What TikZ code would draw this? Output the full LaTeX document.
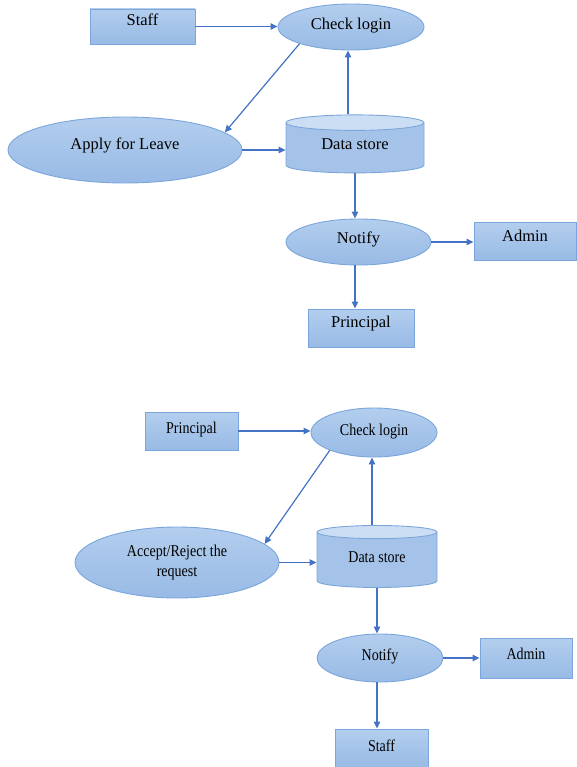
\documentclass[tikz,border=0pt]{standalone}
\usepackage{fontspec}
\setmainfont{Liberation Serif}
\newfontfamily\narrowserif[FakeStretch=0.85]{Liberation Serif}
\usetikzlibrary{shapes.geometric}
\usetikzlibrary{arrows.meta,positioning}
\definecolor{fillTop}{HTML}{B3CEEE}
\definecolor{fillBot}{HTML}{98BAE5}
\definecolor{rand}{HTML}{7AA6DB}
\definecolor{pfeilfarbe}{HTML}{4472C4}
\definecolor{deckel}{HTML}{CCDEF3}
\definecolor{mantel}{HTML}{A5C3E9}
\tikzset{
    %Define standard arrow tip
    >={Triangle[length=7pt,width=6.5pt]},
    %Define style for boxes
    kasten/.style={
           rectangle,
           draw=rand, line width=0.9pt,
           top color=fillTop, bottom color=fillBot,
           inner sep=0pt,
           text height=11pt},
    % Define style for processes
    oval/.style={
           ellipse,
           draw=rand, line width=0.9pt,
           top color=fillTop, bottom color=fillBot,
           inner sep=0pt,
           align=center},
    % Define style for the data store
    speicher/.style={
           cylinder, shape border rotate=90, aspect=0.23,
           draw=rand, line width=0.9pt,
           cylinder uses custom fill,
           cylinder body fill=mantel, cylinder end fill=deckel,
           inner sep=0pt,
           text height=11pt},
    % Define arrow style
    pil/.style={
           ->,
           draw=pfeilfarbe,
           line width=1.2pt},
    oben/.style={font=\fontsize{16.5}{19}\selectfont},
    unten/.style={font=\narrowserif\fontsize{16.5}{20}\selectfont},
}
\begin{document}
\begin{tikzpicture}[x=1pt,y=-1pt]
\useasboundingbox (0,0) rectangle (576,767);

% Erstes Diagramm (Staff)
\node[kasten,oben,minimum width=105pt,minimum height=35pt,text depth=13pt] (staffA) at (142.5,26.5) {Staff};
\node[oval,oben,minimum width=146pt,minimum height=46pt,text height=11pt,text depth=6pt] (loginA) at (351,27) {Check login};
\node[oval,oben,minimum width=234pt,minimum height=66pt,text height=11pt,text depth=12pt] (leave) at (125,150) {Apply for Leave};
\node[speicher,oben,minimum width=138pt,minimum height=58pt,text depth=7pt] (storeA) at (355,148) {Data store};
\node[oval,oben,minimum width=145pt,minimum height=46pt,text height=11pt,text depth=9pt] (notifyA) at (358.5,242) {Notify};
\node[kasten,oben,minimum width=102pt,minimum height=38pt,text depth=11pt] (adminA) at (525,241.5) {Admin};
\node[kasten,oben,minimum width=106pt,minimum height=38pt,text depth=12pt] (principalA) at (361,328) {Principal};

\draw[pil] (staffA.east) -- (staffA.east -| loginA.west);
\draw[pil] (loginA.198) -- (leave.10);
\draw[pil] (leave.east) -- (leave.east -| storeA.west);
\draw[pil] ([xshift=-7pt]storeA.north) -- ([xshift=-7pt]storeA.north |- loginA.south);
\draw[pil] (storeA.south) -- (storeA.south |- notifyA.north);
\draw[pil] (notifyA.east) -- (notifyA.east -| adminA.west);
\draw[pil] (storeA.south |- notifyA.south) -- (storeA.south |- principalA.north);

% Zweites Diagramm (Principal)
\node[kasten,unten,minimum width=93pt,minimum height=38pt,text depth=6pt] (principalB) at (191.5,431) {Principal};
\node[oval,unten,minimum width=126pt,minimum height=49pt,text height=11pt,text depth=6pt] (loginB) at (374,432.5) {Check login};
\node[oval,unten,minimum width=204pt,minimum height=71pt] (decide) at (177,562.5) {Accept/Reject the\\request};
\node[speicher,unten,minimum width=120pt,minimum height=62pt,text depth=6pt] (storeB) at (377,560) {Data store};
\node[oval,unten,minimum width=126pt,minimum height=48pt,text height=11pt,text depth=7pt] (notifyB) at (380,658) {Notify};
\node[kasten,unten,minimum width=92pt,minimum height=40pt,text depth=8pt] (adminB) at (526,658) {Admin};
\node[kasten,unten,minimum width=93pt,minimum height=38pt,text depth=4pt] (staffB) at (381.5,748) {Staff};

\draw[pil] (principalB.east) -- (principalB.east -| loginB.west);
\draw[pil] (loginB.202) -- (decide.12);
\draw[pil] (decide.east) -- (decide.east -| storeB.west);
\draw[pil] ([xshift=-5pt]storeB.north) -- ([xshift=-5pt]storeB.north |- loginB.south);
\draw[pil] (storeB.south) -- (storeB.south |- notifyB.north);
\draw[pil] (notifyB.east) -- (notifyB.east -| adminB.west);
\draw[pil] (storeB.south |- notifyB.south) -- (storeB.south |- staffB.north);
\end{tikzpicture}
\end{document}
